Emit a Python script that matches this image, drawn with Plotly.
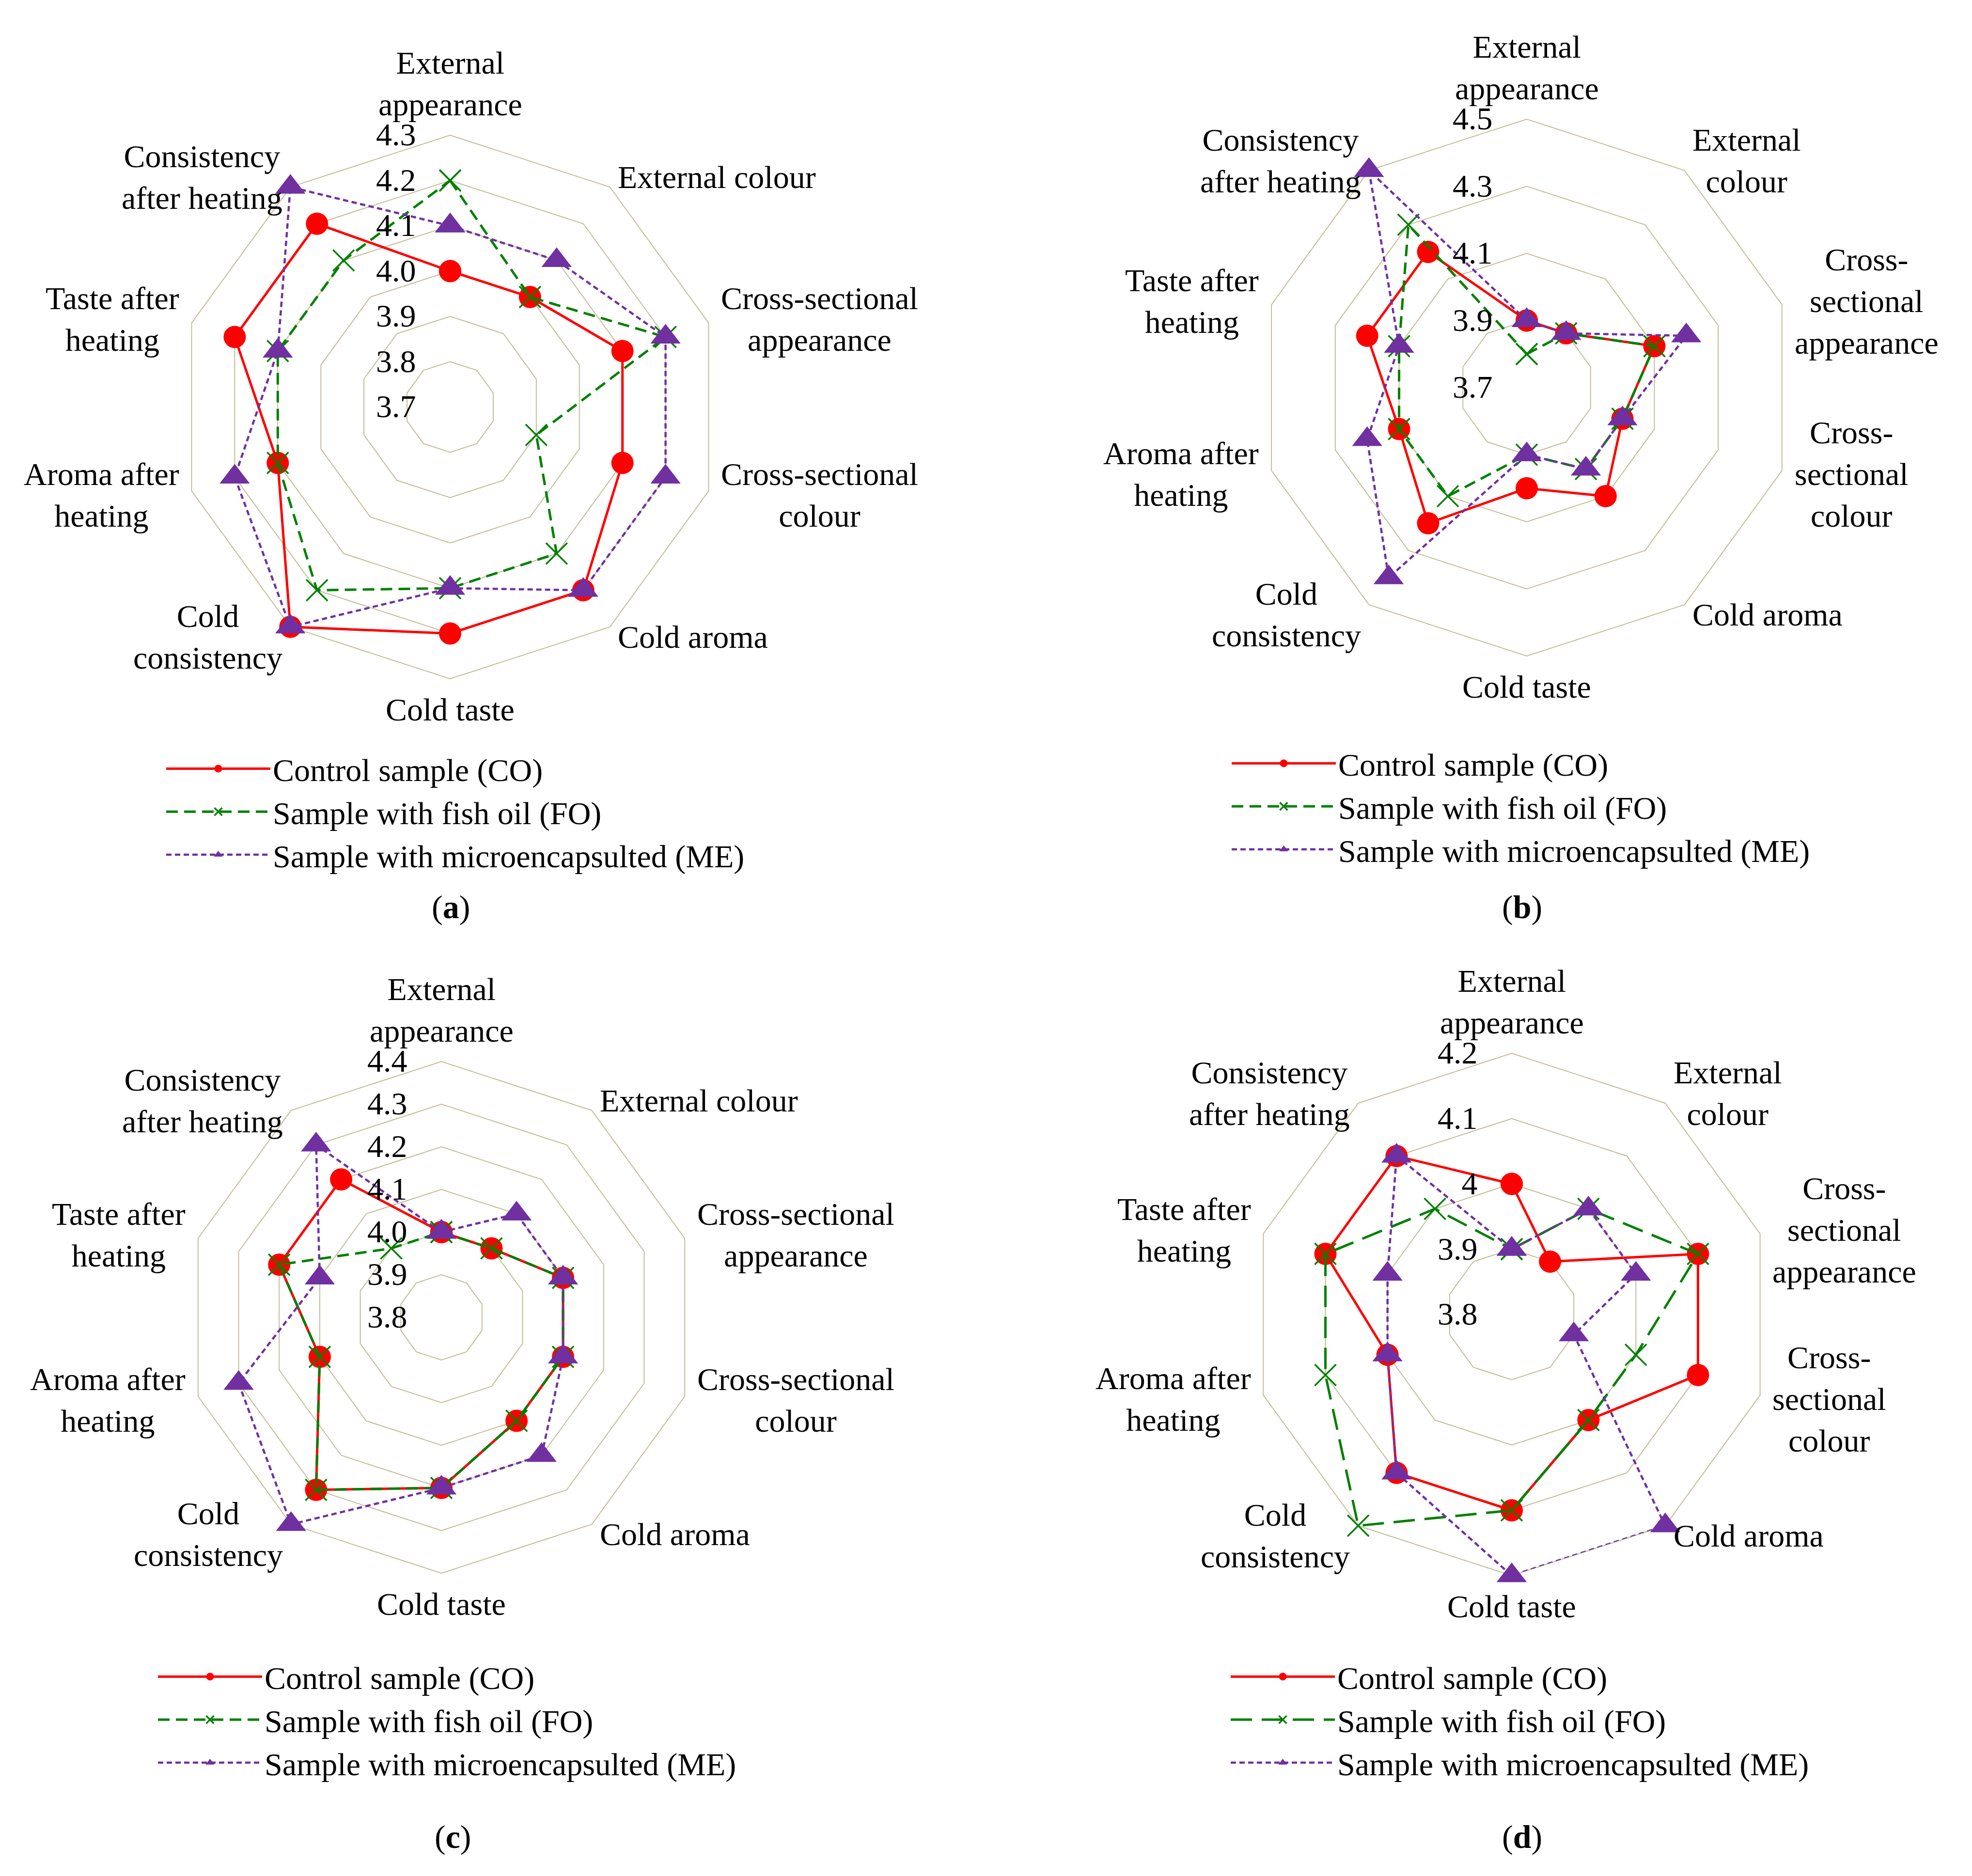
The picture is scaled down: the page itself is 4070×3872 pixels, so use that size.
import math
import plotly.graph_objects as go

categories = ["External appearance", "External colour", "Cross-sectional appearance",
              "Cross-sectional colour", "Cold aroma", "Cold taste", "Cold consistency",
              "Aroma after heating", "Taste after heating", "Consistency after heating"]

labels_ac = ["External<br>appearance", "External colour", "Cross-sectional<br>appearance",
             "Cross-sectional<br>colour", "Cold aroma", "Cold taste", "Cold<br>consistency",
             "Aroma after<br>heating", "Taste after<br>heating", "Consistency<br>after heating"]
labels_bd = ["External<br>appearance", "External<br>colour", "Cross-<br>sectional<br>appearance",
             "Cross-<br>sectional<br>colour", "Cold aroma", "Cold taste", "Cold<br>consistency",
             "Aroma after<br>heating", "Taste after<br>heating", "Consistency<br>after heating"]

series_names = ["Control sample (CO)", "Sample with fish oil (FO)", "Sample with microencapsulted (ME)"]

# panel (a)
co_a = [4.0, 4.0, 4.1, 4.1, 4.2, 4.2, 4.3, 4.1, 4.2, 4.2]
fo_a = [4.2, 4.0, 4.2, 3.9, 4.1, 4.1, 4.2, 4.1, 4.1, 4.1]
me_a = [4.1, 4.1, 4.2, 4.2, 4.2, 4.1, 4.3, 4.2, 4.1, 4.3]
# panel (b)
co_b = [3.9, 3.9, 4.1, 4.0, 4.1, 4.0, 4.2, 4.1, 4.2, 4.2]
fo_b = [3.8, 3.9, 4.1, 4.0, 4.0, 3.9, 4.1, 4.1, 4.1, 4.3]
me_b = [3.9, 3.9, 4.2, 4.0, 4.0, 3.9, 4.4, 4.2, 4.1, 4.5]
# panel (c)
co_c = [4.0, 4.0, 4.1, 4.1, 4.1, 4.2, 4.3, 4.1, 4.2, 4.2]
fo_c = [4.0, 4.0, 4.1, 4.1, 4.1, 4.2, 4.3, 4.1, 4.2, 4.0]
me_c = [4.0, 4.1, 4.1, 4.1, 4.2, 4.2, 4.4, 4.3, 4.1, 4.3]
# panel (d)
co_d = [4.0, 3.9, 4.1, 4.1, 4.0, 4.1, 4.1, 4.0, 4.1, 4.1]
fo_d = [3.9, 4.0, 4.1, 4.0, 4.0, 4.1, 4.2, 4.1, 4.1, 4.0]
me_d = [3.9, 4.0, 4.0, 3.9, 4.2, 4.2, 4.1, 4.0, 4.0, 4.1]

radial_ranges = {"a": [3.7, 4.3], "b": [3.7, 4.5], "c": [3.8, 4.4], "d": [3.8, 4.2]}
radial_dticks = {"a": 0.1, "b": 0.2, "c": 0.1, "d": 0.1}
radial_formats = {"a": ".1f", "b": ".1f", "c": ".1f", "d": ""}

W, H = 4070, 3872
FONT = "Liberation Serif"
FS = 66
GRID = "#C4BD97"
RED, GREEN, PURPLE = "#FF0000", "#008000", "#7030A0"

panels = [
    # key, polar id, legend id, data, labels, center x, center y, radius, green dash
    ("a", "polar", "legend", (co_a, fo_a, me_a), labels_ac, 921, 832, 561, "24px,13px"),
    ("b", "polar2", "legend2", (co_b, fo_b, me_b), labels_bd, 3143, 792, 554, "24px,13px"),
    ("c", "polar3", "legend3", (co_c, fo_c, me_c), labels_ac, 903, 2711, 528, "24px,13px"),
    ("d", "polar4", "legend4", (co_d, fo_d, me_d), labels_bd, 3112, 2705, 539, "44px,20px"),
]
legend_pos = {"a": (330, 1529), "b": (2529, 1518), "c": (313, 3403), "d": (2527, 3403)}
caption_pos = {"a": (922, 1864), "b": (3133, 1864), "c": (927, 3783), "d": (3133, 3783)}
LABEL_PAD = 25

fig = go.Figure()
layout = dict(width=W, height=H, margin=dict(l=0, r=0, t=0, b=0),
              paper_bgcolor="white", plot_bgcolor="white",
              font=dict(family=FONT, size=FS, color="black"), annotations=[])

def closed(v):
    return list(v) + [v[0]]

for key, pid, lid, data, labels, cx, cy, R, gdash in panels:
    theta = closed(categories)
    styles = [
        dict(line=dict(color=RED, width=5, dash="solid"),
             marker=dict(symbol="circle", size=46, color=RED)),
        dict(line=dict(color=GREEN, width=5, dash=gdash),
             marker=dict(symbol="x-thin", size=44, color=GREEN, line=dict(color=GREEN, width=3.5))),
        dict(line=dict(color=PURPLE, width=4.5, dash="11px,7px"),
             marker=dict(symbol="triangle-up", size=54, color=PURPLE)),
    ]
    for name, vals, st in zip(series_names, data, styles):
        fig.add_trace(go.Scatterpolar(r=closed(vals), theta=theta, mode="lines+markers",
                                      name=name, subplot=pid, legend=lid,
                                      line=st["line"], marker=st["marker"]))
    rng = radial_ranges[key]
    layout[pid] = dict(
        domain=dict(x=[(cx - R) / W, (cx + R) / W], y=[1 - (cy + R) / H, 1 - (cy - R) / H]),
        gridshape="linear", bgcolor="white",
        radialaxis=dict(range=rng, tick0=rng[0], dtick=radial_dticks[key], tickmode="linear",
                        tickformat=radial_formats[key], angle=90, tickangle=90,
                        side="counterclockwise", showline=False, ticks="outside", ticklen=47,
                        tickcolor="rgba(0,0,0,0)", gridcolor=GRID, gridwidth=2,
                        tickfont=dict(family=FONT, size=FS, color="black"), layer="above traces"),
        angularaxis=dict(direction="clockwise", rotation=90, type="category",
                         categoryorder="array", categoryarray=categories,
                         showticklabels=False, ticks="",
                         showgrid=False, showline=True, linecolor=GRID, linewidth=2,
                         layer="below traces"),
    )
    # category labels placed just outside each vertex of the outer polygon
    n = len(categories)
    for i, lab in enumerate(labels):
        ang = math.radians(360.0 * i / n)
        s, c = math.sin(ang), math.cos(ang)
        px = cx + (R + LABEL_PAD) * s
        py = cy - (R + LABEL_PAD) * c
        xa = "center" if abs(s) < 0.1 else ("left" if s > 0 else "right")
        ya = "bottom" if c > 0.95 else ("top" if c < -0.95 else "middle")
        layout["annotations"].append(dict(text=lab, x=px / W, y=1 - py / H, xref="paper", yref="paper",
                                          showarrow=False, xanchor=xa, yanchor=ya, align="center",
                                          font=dict(family=FONT, size=FS, color="black")))
    lx, ly = legend_pos[key]
    layout[lid] = dict(x=lx / W, y=1 - ly / H, xanchor="left", yanchor="top",
                       font=dict(family=FONT, size=FS, color="black"),
                       bgcolor="rgba(0,0,0,0)", itemwidth=215, itemsizing="trace")
    cpx, cpy = caption_pos[key]
    layout["annotations"].append(dict(text="(<b>%s</b>)" % key, x=cpx / W, y=1 - cpy / H,
                                      xref="paper", yref="paper", showarrow=False,
                                      xanchor="center", yanchor="middle",
                                      font=dict(family=FONT, size=FS + 2, color="black")))

fig.update_layout(**layout)
fig.write_html("out.html")
